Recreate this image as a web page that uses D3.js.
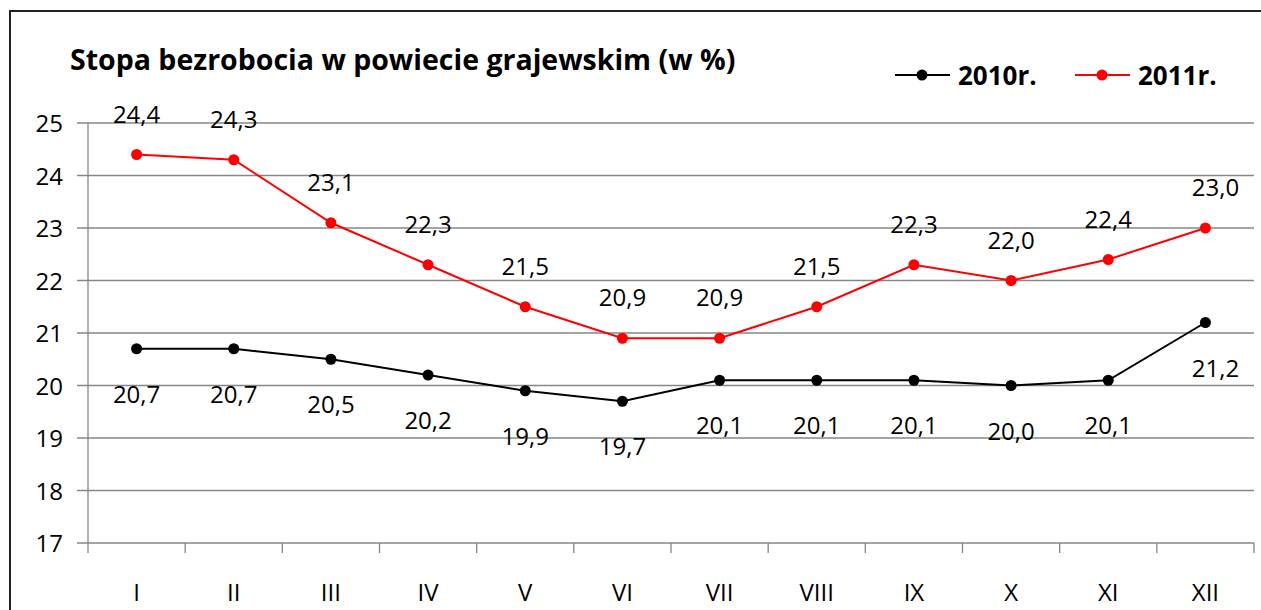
<!DOCTYPE html>
<meta charset="utf-8">
<style>
body { margin: 0; background: #fff; }
text { font-family: "Open Sans", sans-serif; fill: #000; }
.grid line { stroke: #868686; stroke-width: 1.3px; }
</style>
<svg width="1261" height="610"></svg>
<script src="https://d3js.org/d3.v7.min.js"></script>
<script>

var months = ["I", "II", "III", "IV", "V", "VI", "VII", "VIII", "IX", "X", "XI", "XII"];
var values2010 = [20.7, 20.7, 20.5, 20.2, 19.9, 19.7, 20.1, 20.1, 20.1, 20.0, 20.1, 21.2];
var values2011 = [24.4, 24.3, 23.1, 22.3, 21.5, 20.9, 20.9, 21.5, 22.3, 22.0, 22.4, 23.0];
var yTicks = [17, 18, 19, 20, 21, 22, 23, 24, 25];

var series = [
  {name: "2010r.", values: values2010, color: "#000", labelDy: 54},
  {name: "2011r.", values: values2011, color: "#ff0000", labelDy: -32}
];

var svg = d3.select("svg");

// frame round the chart
svg.append("rect")
    .attr("x", 10).attr("y", 11)
    .attr("width", 1300).attr("height", 700)
    .attr("fill", "none")
    .attr("stroke", "#222")
    .attr("stroke-width", 2);

var plotLeft = 88, plotRight = 1254, plotTop = 123, plotBottom = 543;

var x = d3.scaleBand().domain(months).range([plotLeft, plotRight]);
var y = d3.scaleLinear().domain([17, 25]).range([plotBottom, plotTop]);

var fmt = function(v) { return d3.format(".1f")(v).replace(".", ","); };

// horizontal grid
svg.append("g")
    .attr("class", "grid")
  .selectAll("line")
  .data(yTicks)
  .enter().append("line")
    .attr("x1", plotLeft - 11)
    .attr("x2", plotRight)
    .attr("y1", function(d) { return y(d); })
    .attr("y2", function(d) { return y(d); });

// y axis
svg.append("line")
    .attr("x1", plotLeft).attr("x2", plotLeft)
    .attr("y1", plotTop).attr("y2", plotBottom + 10)
    .attr("stroke", "#868686").attr("stroke-width", 1.3);

svg.append("g")
  .selectAll("text")
  .data(yTicks)
  .enter().append("text")
    .attr("x", 63)
    .attr("y", function(d) { return y(d) + 9; })
    .attr("text-anchor", "end")
    .style("font-size", "24px")
    .text(function(d) { return d; });

// x axis ticks between categories
var bounds = months.map(function(m) { return x(m) + x.bandwidth(); });
svg.append("g")
    .attr("class", "grid")
  .selectAll("line")
  .data(bounds)
  .enter().append("line")
    .attr("x1", function(d) { return d; })
    .attr("x2", function(d) { return d; })
    .attr("y1", plotBottom)
    .attr("y2", plotBottom + 10);

svg.append("g")
  .selectAll("text")
  .data(months)
  .enter().append("text")
    .attr("x", function(d) { return x(d) + x.bandwidth() / 2; })
    .attr("y", 601)
    .attr("text-anchor", "middle")
    .style("font-size", "24px")
    .text(function(d) { return d; });

var cx = function(d, i) { return x(months[i]) + x.bandwidth() / 2; };

var line = d3.line()
    .x(function(d, i) { return cx(d, i); })
    .y(function(d) { return y(d); });

series.forEach(function(s) {
  var g = svg.append("g");
  g.append("path")
      .datum(s.values)
      .attr("d", line)
      .attr("fill", "none")
      .attr("stroke", s.color)
      .attr("stroke-width", 2);
  g.selectAll("circle")
    .data(s.values)
    .enter().append("circle")
      .attr("cx", cx)
      .attr("cy", function(d) { return y(d); })
      .attr("r", 5.5)
      .attr("fill", s.color);
  g.selectAll("text")
    .data(s.values)
    .enter().append("text")
      .attr("x", function(d, i) { return cx(d, i) + (i == 11 ? 10 : 0); })
      .attr("y", function(d) { return y(d) + s.labelDy; })
      .attr("text-anchor", "middle")
      .style("font-size", "24px")
      .text(fmt);
});

// title
svg.append("text")
    .attr("x", 70)
    .attr("y", 70)
    .style("font-size", "28.5px")
    .style("font-weight", "bold")
    .text("Stopa bezrobocia w powiecie grajewskim (w %)");

// legend
var legendX = [895, 1075];
series.forEach(function(s, i) {
  var lg = svg.append("g").attr("transform", "translate(" + legendX[i] + ",75)");
  lg.append("line")
      .attr("x1", 0).attr("x2", 55)
      .attr("stroke", s.color).attr("stroke-width", 2);
  lg.append("circle")
      .attr("cx", 27).attr("r", 5.5).attr("fill", s.color);
  lg.append("text")
      .attr("x", 63).attr("y", 10)
      .style("font-size", "26px")
      .style("font-weight", "bold")
      .text(s.name);
});

</script>
